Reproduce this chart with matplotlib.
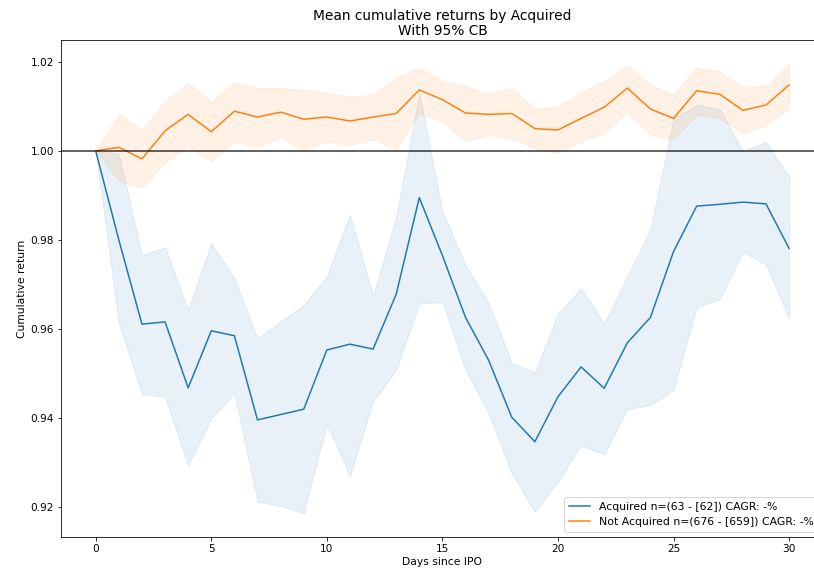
from matplotlib import pyplot as plt

days = list(range(31))

acq_mean = [1.0, 0.980, 0.9611, 0.9616, 0.9468, 0.9596, 0.9585, 0.9396, 0.9408, 0.9420,
            0.9553, 0.9566, 0.9555, 0.9678, 0.9895, 0.9765, 0.9626, 0.9530, 0.9402, 0.9347,
            0.9448, 0.9515, 0.9467, 0.9569, 0.9626, 0.9774, 0.9876, 0.9880, 0.9885, 0.9881,
            0.9781]
acq_hi = [1.0, 0.9993, 0.9766, 0.9784, 0.9643, 0.9793, 0.9714, 0.9579, 0.9617, 0.9654,
          0.9718, 0.9858, 0.9674, 0.9852, 1.0130, 0.9864, 0.9744, 0.9658, 0.9524, 0.9502,
          0.9635, 0.9691, 0.9613, 0.9718, 0.9824, 1.0073, 1.0103, 1.0094, 1.0000, 1.0020,
          0.9942]
acq_lo = [1.0, 0.9613, 0.9454, 0.9448, 0.9293, 0.9399, 0.9455, 0.9212, 0.9203, 0.9186,
          0.9387, 0.9270, 0.9438, 0.9508, 0.9658, 0.9660, 0.9508, 0.9411, 0.9276, 0.9190,
          0.9257, 0.9339, 0.9319, 0.9420, 0.9429, 0.9463, 0.9649, 0.9667, 0.9774, 0.9744,
          0.9624]

not_mean = [1.0, 1.0008, 0.9982, 1.0045, 1.0082, 1.0043, 1.0089, 1.0076, 1.0087, 1.0071,
            1.0076, 1.0067, 1.0076, 1.0084, 1.0137, 1.0115, 1.0085, 1.0082, 1.0084, 1.0050,
            1.0047, 1.0073, 1.0098, 1.0141, 1.0094, 1.0073, 1.0135, 1.0127, 1.0091, 1.0103,
            1.0148]
not_hi = [1.0, 1.0082, 1.0047, 1.0111, 1.0152, 1.0111, 1.0154, 1.0141, 1.0141, 1.0137,
          1.0130, 1.0122, 1.0126, 1.0165, 1.0187, 1.0156, 1.0145, 1.0128, 1.0141, 1.0094,
          1.0100, 1.0131, 1.0156, 1.0191, 1.0148, 1.0126, 1.0187, 1.0178, 1.0142, 1.0146,
          1.0197]
not_lo = [1.0, 0.9933, 0.9918, 0.9974, 1.0010, 0.9978, 1.0021, 1.0010, 1.0030, 1.0002,
          1.0021, 1.0013, 1.0026, 1.0004, 1.0085, 1.0066, 1.0022, 1.0036, 1.0027, 1.0006,
          0.9995, 1.0021, 1.0040, 1.0088, 1.0036, 1.0025, 1.0081, 1.0073, 1.0040, 1.0058,
          1.0096]

labels = ['Acquired n=(63 - [62]) CAGR: -%', 'Not Acquired n=(676 - [659]) CAGR: -%']

# 72 dpi so point sizes map straight to pixels
fig = plt.figure(figsize=(814 / 72, 571 / 72), dpi=72)
ax = fig.add_axes([0.075, 0.0595, 0.937, 0.8705])

ax.plot(days, acq_mean, color='C0', label=labels[0])
ax.fill_between(days, acq_lo, acq_hi, color='C0', alpha=0.1)
ax.plot(days, not_mean, color='C1', label=labels[1])
ax.fill_between(days, not_lo, not_hi, color='C1', alpha=0.1)
ax.axhline(1.0, color='k', lw=1.5, alpha=0.8)

ax.set_xlim(-1.5, 31.5)
ax.set_ylim(0.9133, 1.0249)
ax.set_yticks([0.92, 0.94, 0.96, 0.98, 1.00, 1.02])
ax.set_yticklabels(['0.92', '0.94', '0.96', '0.98', '1.00', '1.02'])
ax.tick_params(labelsize=10.5)

ax.set_title('Mean cumulative returns by Acquired\nWith 95% CB', fontsize=13.7,
             linespacing=1.1, pad=5)
ax.set_xlabel('Days since IPO', fontsize=10.8, labelpad=3)
ax.set_ylabel('Cumulative return', fontsize=10.8)
ax.legend(loc='lower right', fontsize=10.9)

plt.savefig('out.png', dpi=72)
